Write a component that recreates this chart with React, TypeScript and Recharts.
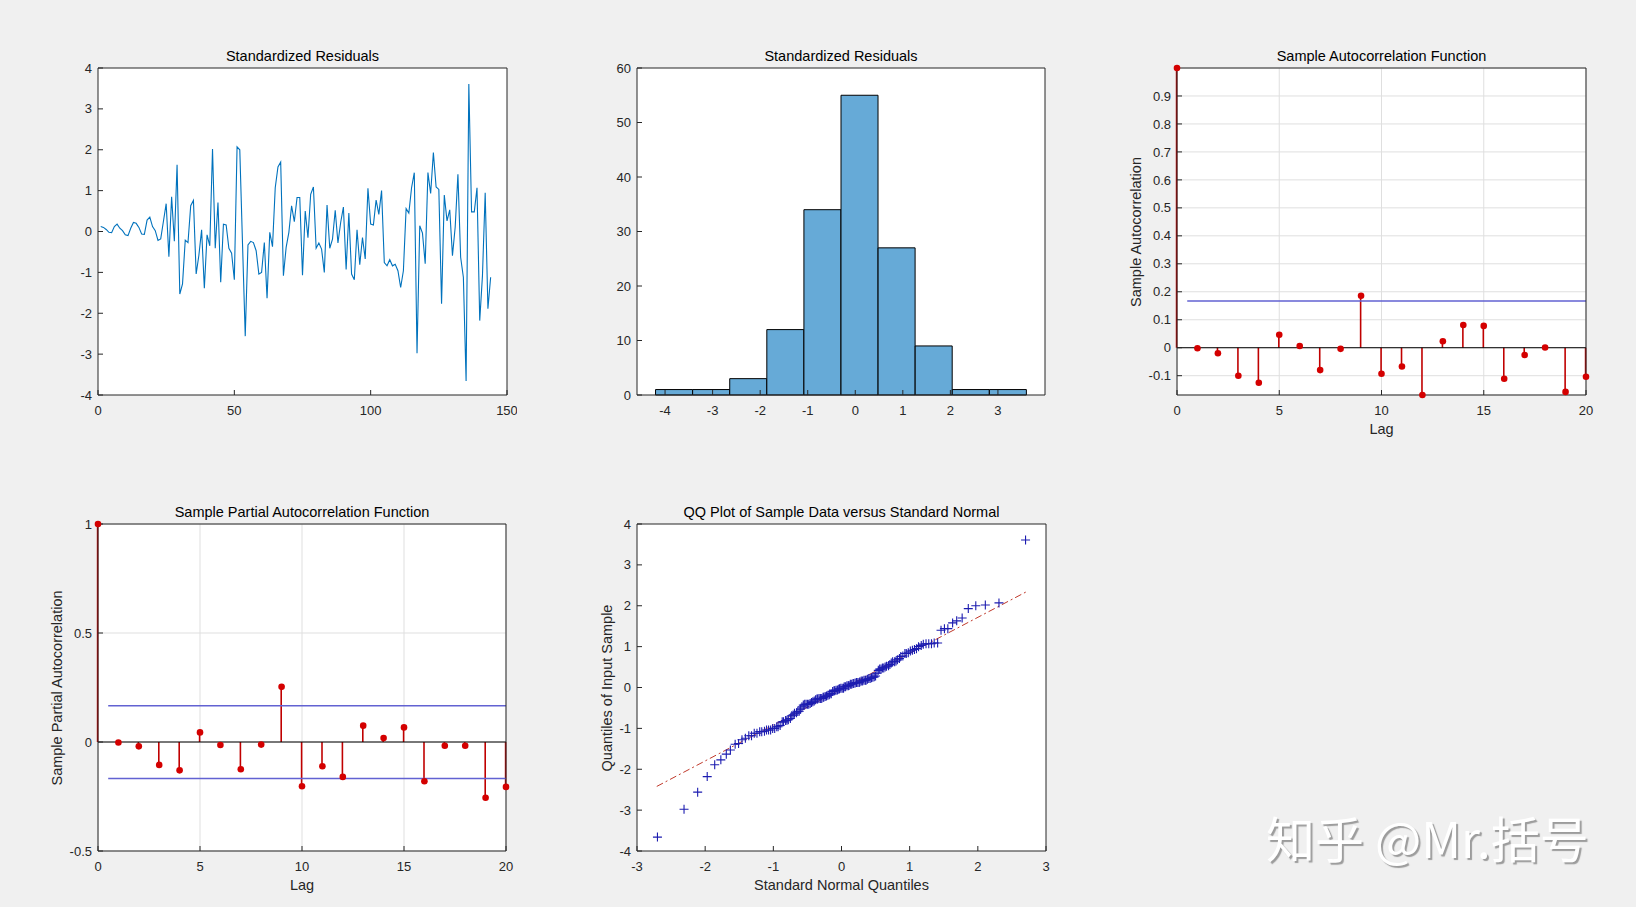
import React from "react";
import {
  LineChart,
  Line,
  ComposedChart,
  Bar,
  Scatter,
  XAxis,
  YAxis,
  CartesianGrid,
  ReferenceLine,
} from "recharts";

// ---- data ----

// standardized residuals, t = 1..144
const residuals = [
  0.12, 0.10, 0.05, -0.02, -0.03, 0.12, 0.18, 0.08, 0.02, -0.08,
  -0.10, 0.08, 0.22, 0.20, 0.10, -0.06, -0.07, 0.28, 0.35, 0.12,
  0.02, -0.22, -0.18, 0.25, 0.68, -0.62, 0.85, -0.24, 1.63, -1.53,
  -1.28, -0.21, -0.27, 0.63, 0.76, -1.04, -0.58, 0.04, -1.39, -0.08,
  -0.35, 2.02, -0.41, 0.71, -1.24, 0.18, 0.16, -0.41, -0.53, -1.18,
  2.07, 2.00, -0.30, -2.56, -0.33, -0.24, -0.27, -0.47, -1.04, -1.00,
  -0.27, -1.63, -0.02, -0.37, 1.07, 1.58, 1.70, -1.08, -0.39, -0.02,
  0.63, 0.24, 0.83, 0.83, -1.07, 0.50, -0.15, 0.91, 1.09, -0.41,
  -0.28, -0.43, -1.00, 0.65, -0.41, -0.19, 0.52, -0.28, 0.22, 0.60,
  -0.93, 0.45, -1.04, -1.18, 0.04, -0.81, -0.15, -0.67, 1.06, 0.18,
  0.16, 0.77, 0.42, 1.00, -0.76, -0.84, -0.69, -0.84, -0.80, -0.96,
  -1.37, -0.96, 0.56, 0.45, 1.07, 1.44, -2.98, 0.14, -0.04, -0.79,
  1.44, 0.93, 1.93, 1.09, 1.03, -1.77, 0.89, 0.26, 0.53, -0.59,
  0.11, 1.40, -0.63, -1.12, -3.66, 3.61, 0.48, 0.48, 1.07, -2.18,
  -1.08, 0.95, -1.89, -1.12,
];
const resTicksX = [0, 50, 100, 150];
const resTicksY = [-4, -3, -2, -1, 0, 1, 2, 3, 4];

// histogram
const histEdges = [-4.2, -3.42, -2.64, -1.86, -1.08, -0.3, 0.48, 1.26, 2.04, 2.82, 3.6];
const histCounts = [1, 1, 3, 12, 34, 55, 27, 9, 1, 1];
const histDomainX: [number, number] = [-4.59, 3.99];
const histTicksX = [-4, -3, -2, -1, 0, 1, 2, 3];
const histTicksY = [0, 10, 20, 30, 40, 50, 60];

// sample autocorrelation, lags 0..20
const acfValues = [
  1.0, -0.002, -0.02, -0.1, -0.125, 0.046, 0.006, -0.08, -0.004, 0.186, -0.093,
  -0.067, -0.169, 0.023, 0.081, 0.078, -0.111, -0.026, 0.001, -0.158, -0.104,
];
const acfBounds = [0.167];
const acfDomainY: [number, number] = [-0.169, 1.0];
const acfTicksY = [-0.1, 0, 0.1, 0.2, 0.3, 0.4, 0.5, 0.6, 0.7, 0.8, 0.9];

// sample partial autocorrelation, lags 0..20
const pacfValues = [
  1.0, -0.002, -0.02, -0.105, -0.13, 0.044, -0.014, -0.125, -0.012, 0.253, -0.203,
  -0.111, -0.16, 0.075, 0.018, 0.067, -0.18, -0.017, -0.017, -0.256, -0.206,
];
const pacfBounds = [0.166, -0.168];
const pacfTicksY = [-0.5, 0, 0.5, 1];

const lagTicks = [0, 5, 10, 15, 20];
const boundStart = 0.5;

// QQ plot: standard normal quantiles for n = 144
const qqTheoretical = [
  -2.70, -2.31, -2.11, -1.97, -1.86, -1.77, -1.69, -1.63, -1.56, -1.51,
  -1.46, -1.41, -1.36, -1.32, -1.28, -1.24, -1.20, -1.17, -1.13, -1.10,
  -1.07, -1.04, -1.01, -0.98, -0.95, -0.93, -0.90, -0.87, -0.85, -0.82,
  -0.80, -0.78, -0.75, -0.73, -0.71, -0.69, -0.66, -0.64, -0.62, -0.60,
  -0.58, -0.56, -0.54, -0.52, -0.50, -0.48, -0.46, -0.44, -0.42, -0.40,
  -0.38, -0.36, -0.35, -0.33, -0.31, -0.29, -0.27, -0.26, -0.24, -0.22,
  -0.20, -0.18, -0.17, -0.15, -0.13, -0.11, -0.10, -0.08, -0.06, -0.04,
  -0.03, -0.01, 0.01, 0.03, 0.04, 0.06, 0.08, 0.10, 0.11, 0.13,
  0.15, 0.17, 0.18, 0.20, 0.22, 0.24, 0.26, 0.27, 0.29, 0.31,
  0.33, 0.35, 0.36, 0.38, 0.40, 0.42, 0.44, 0.46, 0.48, 0.50,
  0.52, 0.54, 0.56, 0.58, 0.60, 0.62, 0.64, 0.66, 0.69, 0.71,
  0.73, 0.75, 0.78, 0.80, 0.82, 0.85, 0.87, 0.90, 0.93, 0.95,
  0.98, 1.01, 1.04, 1.07, 1.10, 1.13, 1.17, 1.20, 1.24, 1.28,
  1.32, 1.36, 1.41, 1.46, 1.51, 1.56, 1.63, 1.69, 1.77, 1.86,
  1.97, 2.11, 2.31, 2.70,
];
const qqLineX = [-2.71, 2.71];
const qqLineY = [-2.42, 2.34];
const qqTicksX = [-3, -2, -1, 0, 1, 2, 3];
const qqTicksY = [-4, -3, -2, -1, 0, 1, 2, 3, 4];

// ---- tables built from the arrays ----
const resData = residuals.map((v, i) => ({ t: i + 1, v }));
const histData = histCounts.map((n, i) => ({ c: (histEdges[i] + histEdges[i + 1]) / 2, n }));
const acfData = acfValues.map((v, i) => ({ lag: i, v }));
const pacfData = pacfValues.map((v, i) => ({ lag: i, v }));
const qqSample = [...residuals].sort((a, b) => a - b);
const qqData = qqTheoretical.map((x, i) => ({ x, y: qqSample[i] }));

// ---- layout ----
const FONT = '"Liberation Sans", Arial, Helvetica, sans-serif';
const AX = "#262626";
const RED = "#d40000";
const STEM = "#c00000";
const BOUND = "#6262d2";
const QQ_BLUE = "#1c1cb0";

type Rect = { left: number; top: number; w: number; h: number };
const P1: Rect = { left: 98, top: 68, w: 409, h: 327 };
const P2: Rect = { left: 637, top: 68, w: 408, h: 327 };
const P3: Rect = { left: 1177, top: 68, w: 409, h: 327 };
const P4: Rect = { left: 98, top: 524, w: 408, h: 327 };
const P5: Rect = { left: 637, top: 524, w: 409, h: 327 };

const PAD_L = 50;
const PAD_T = 10;
const PAD_R = 10;
const PAD_B = 40;
// the top / right mirror axes take 1px each
const margin = { top: PAD_T - 1, right: PAD_R - 1, bottom: 0, left: 0 };

const tickStyle = { fontSize: 13, fill: AX, fontFamily: FONT };

function chartPos(r: Rect): React.CSSProperties {
  return { position: "absolute", left: r.left - PAD_L, top: r.top - PAD_T };
}

// axes on all four sides with inward ticks, like a boxed MATLAB axes
function frame(xKey: string, xDomain: [number, number], xTicks: number[], yDomain: [number, number], yTicks: number[]) {
  return [
    <XAxis key="xb" dataKey={xKey} type="number" domain={xDomain} ticks={xTicks} interval={0}
      height={PAD_B} tickSize={-5} tickMargin={16} tick={tickStyle}
      stroke={AX} tickLine={{ stroke: AX }} />,
    <XAxis key="xt" xAxisId="top" orientation="top" type="number" domain={xDomain} ticks={xTicks}
      interval={0} allowDataOverflow height={1} tickSize={-5} tick={false} stroke={AX}
      tickLine={{ stroke: AX }} />,
    <YAxis key="yl" type="number" domain={yDomain} ticks={yTicks} interval={0}
      width={PAD_L} tickSize={-5} tickMargin={11} tick={tickStyle} stroke={AX}
      tickLine={{ stroke: AX }} />,
    <YAxis key="yr" yAxisId="right" orientation="right" type="number" domain={yDomain} ticks={yTicks}
      interval={0} allowDataOverflow width={1} tickSize={-5} tick={false} stroke={AX}
      tickLine={{ stroke: AX }} />,
  ];
}

function PlotBg({ r }: { r: Rect }) {
  return <div style={{ position: "absolute", left: r.left, top: r.top, width: r.w, height: r.h, background: "#fff" }} />;
}

function Title({ r, text }: { r: Rect; text: string }) {
  return (
    <div style={{ position: "absolute", left: r.left - 100, width: r.w + 200, top: r.top - 21, height: 18,
      lineHeight: "18px", textAlign: "center", fontSize: 14.5, color: "#000", fontFamily: FONT }}>
      {text}
    </div>
  );
}

function XLabel({ r, text }: { r: Rect; text: string }) {
  return (
    <div style={{ position: "absolute", left: r.left, width: r.w, top: r.top + r.h + 25, height: 18,
      lineHeight: "18px", textAlign: "center", fontSize: 14.5, color: AX, fontFamily: FONT }}>
      {text}
    </div>
  );
}

function YLabel({ r, text, dx }: { r: Rect; text: string; dx: number }) {
  const cx = r.left - dx;
  const cy = r.top + r.h / 2;
  return (
    <div style={{ position: "absolute", left: cx - 200, top: cy - 9, width: 400, height: 18,
      lineHeight: "18px", textAlign: "center", fontSize: 14.5, color: AX, fontFamily: FONT,
      transform: "rotate(-90deg)" }}>
      {text}
    </div>
  );
}

const dotShape = (p: any) => <circle cx={p.cx} cy={p.cy} r={3.3} fill={RED} />;
const plusShape = (p: any) => (
  <path d={`M${p.cx - 4.5},${p.cy}H${p.cx + 4.5}M${p.cx},${p.cy - 4.5}V${p.cy + 4.5}`}
    stroke={QQ_BLUE} strokeWidth={1.1} fill="none" />
);

function size(r: Rect) {
  return { width: r.w + PAD_L + PAD_R, height: r.h + PAD_T + PAD_B };
}

export default function App() {
  // just under the bin spacing so recharts keeps the bars touching
  const histBarSize = (P2.w / (histDomainX[1] - histDomainX[0])) * (histEdges[1] - histEdges[0]) * 0.998;

  return (
    <div style={{ position: "absolute", left: 0, top: 0, width: 1636, height: 907, background: "#f0f0f0",
      overflow: "hidden", fontFamily: FONT }}>
      {[P1, P2, P3, P4, P5].map((r, i) => <PlotBg key={i} r={r} />)}

      {/* 1: residual series */}
      <Title r={P1} text="Standardized Residuals" />
      <div style={chartPos(P1)}>
        <LineChart {...size(P1)} data={resData} margin={margin}>
          {frame("t", [0, 150], resTicksX, [-4, 4], resTicksY)}
          <Line dataKey="v" stroke="#0072bd" strokeWidth={1.1} dot={false} isAnimationActive={false} />
        </LineChart>
      </div>

      {/* 2: histogram */}
      <Title r={P2} text="Standardized Residuals" />
      <div style={chartPos(P2)}>
        <ComposedChart {...size(P2)} data={histData} margin={margin} barCategoryGap={0} barGap={0}>
          {frame("c", histDomainX, histTicksX, [0, 60], histTicksY)}
          <Bar dataKey="n" barSize={histBarSize} fill="#66aad7" stroke="#000" strokeWidth={1}
            isAnimationActive={false} />
        </ComposedChart>
      </div>

      {/* 3: ACF */}
      <Title r={P3} text="Sample Autocorrelation Function" />
      <YLabel r={P3} text="Sample Autocorrelation" dx={41} />
      <XLabel r={P3} text="Lag" />
      <div style={chartPos(P3)}>
        <ComposedChart {...size(P3)} data={acfData} margin={margin}>
          <CartesianGrid stroke="#dfdfdf" />
          {frame("lag", [0, 20], lagTicks, acfDomainY, acfTicksY)}
          <ReferenceLine y={0} stroke="#000" strokeWidth={1} />
          {acfBounds.map((b) => (
            <ReferenceLine key={b} segment={[{ x: boundStart, y: b }, { x: 20, y: b }]} stroke={BOUND} strokeWidth={1.5} />
          ))}
          <Bar dataKey="v" barSize={1.6} fill={STEM} isAnimationActive={false} />
          <Scatter dataKey="v" shape={dotShape} isAnimationActive={false} />
        </ComposedChart>
      </div>

      {/* 4: PACF */}
      <Title r={P4} text="Sample Partial Autocorrelation Function" />
      <YLabel r={P4} text="Sample Partial Autocorrelation" dx={41} />
      <XLabel r={P4} text="Lag" />
      <div style={chartPos(P4)}>
        <ComposedChart {...size(P4)} data={pacfData} margin={margin}>
          <CartesianGrid stroke="#dfdfdf" />
          {frame("lag", [0, 20], lagTicks, [-0.5, 1], pacfTicksY)}
          <ReferenceLine y={0} stroke="#000" strokeWidth={1} />
          {pacfBounds.map((b) => (
            <ReferenceLine key={b} segment={[{ x: boundStart, y: b }, { x: 20, y: b }]} stroke={BOUND} strokeWidth={1.5} />
          ))}
          <Bar dataKey="v" barSize={1.6} fill={STEM} isAnimationActive={false} />
          <Scatter dataKey="v" shape={dotShape} isAnimationActive={false} />
        </ComposedChart>
      </div>

      {/* 5: QQ plot */}
      <Title r={P5} text="QQ Plot of Sample Data versus Standard Normal" />
      <YLabel r={P5} text="Quantiles of Input Sample" dx={30} />
      <XLabel r={P5} text="Standard Normal Quantiles" />
      <div style={chartPos(P5)}>
        <ComposedChart {...size(P5)} data={qqData} margin={margin}>
          {frame("x", [-3, 3], qqTicksX, [-4, 4], qqTicksY)}
          <ReferenceLine
            segment={[{ x: qqLineX[0], y: qqLineY[0] }, { x: qqLineX[1], y: qqLineY[1] }]}
            stroke="#c0392b" strokeWidth={1} strokeDasharray="7 3 2 3" />
          <Scatter dataKey="y" shape={plusShape} isAnimationActive={false} />
        </ComposedChart>
      </div>

      {/* watermark */}
      <div style={{ position: "absolute", left: 1266, top: 806, fontSize: 49, lineHeight: "62px", color: "#fff",
        fontFamily: '"Noto Sans CJK SC", "Noto Sans", sans-serif', textShadow: "2px 2px 1px #9c9c9c",
        whiteSpace: "nowrap" }}>
        知乎 @Mr.括号
      </div>
    </div>
  );
}
